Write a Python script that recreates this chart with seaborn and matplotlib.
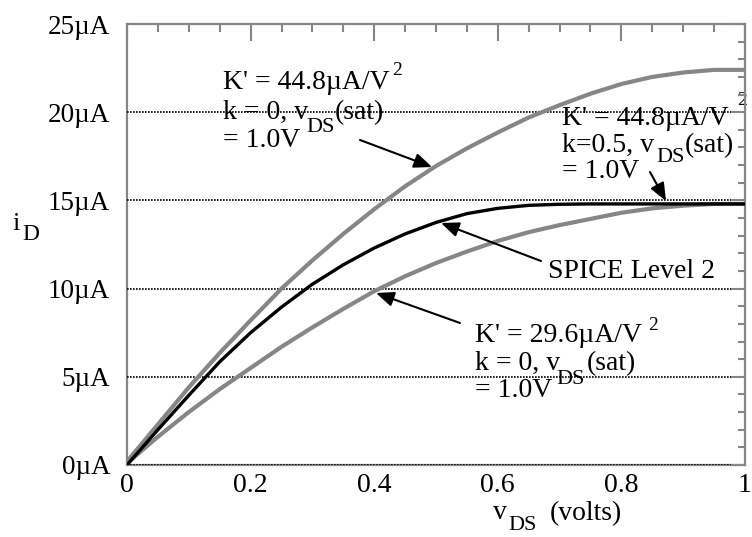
import matplotlib
matplotlib.use("Agg")
import matplotlib.pyplot as plt
from matplotlib.ticker import MultipleLocator, FixedLocator, FixedFormatter
import pandas as pd
import seaborn as sns

# ---------------- data ----------------
vds = [0.0, 0.05, 0.10, 0.15, 0.20, 0.25, 0.30, 0.35, 0.40, 0.45, 0.50,
       0.55, 0.60, 0.65, 0.70, 0.75, 0.80, 0.85, 0.90, 0.95, 1.00]
# K' = 44.8 uA/V^2, k = 0  (upper grey curve), in uA
id_k448 = [0.2, 2.3, 4.4, 6.35, 8.2, 10.0, 11.6, 13.1, 14.5, 15.8, 16.95,
           17.95, 18.85, 19.7, 20.4, 21.05, 21.6, 22.0, 22.25, 22.4, 22.4]
# SPICE Level 2 (black curve), in uA
id_spice = [0.0, 2.0, 3.95, 5.85, 7.5, 8.95, 10.25, 11.35, 12.3, 13.1, 13.75,
            14.25, 14.55, 14.72, 14.78, 14.8, 14.8, 14.8, 14.8, 14.8, 14.8]
# K' = 29.6 uA/V^2, k = 0  (lower grey curve), in uA
id_k296 = [0.1, 1.6, 3.0, 4.3, 5.5, 6.7, 7.8, 8.85, 9.85, 10.7, 11.45,
           12.1, 12.7, 13.2, 13.6, 13.95, 14.3, 14.55, 14.7, 14.8, 14.8]

x_ticks = [0, 0.2, 0.4, 0.6, 0.8, 1.0]
x_tick_labels = ["0", "0.2", "0.4", "0.6", "0.8", "1"]
y_ticks = [0, 5, 10, 15, 20, 25]
y_tick_labels = ["0µA", "5µA", "10µA", "15µA", "20µA", "25µA"]

# ---------------- style ----------------
sns.set_theme(style="white")
plt.rcParams["font.family"] = ["Liberation Serif", "DejaVu Serif"]

GREY = "#868686"
W, H = 752, 537

fig = plt.figure(figsize=(W / 100, H / 100), dpi=100)
L, R, T, B = 127, 745, 24, 465
ax = fig.add_axes([L / W, 1 - B / H, (R - L) / W, (B - T) / H])


def P(x, y):
    """pixel position (from top-left) -> figure fraction"""
    return (x / W, 1 - y / H)


df = pd.DataFrame({"vds": vds, "k448": id_k448, "spice": id_spice, "k296": id_k296})

sns.lineplot(data=df, x="vds", y="k448", ax=ax, color=GREY, lw=3.0, zorder=3)
sns.lineplot(data=df, x="vds", y="k296", ax=ax, color=GREY, lw=3.0, zorder=3)
sns.lineplot(data=df, x="vds", y="spice", ax=ax, color="black", lw=2.4, zorder=4)

ax.set_xlim(0, 1.0)
ax.set_ylim(0, 25)
ax.set_xlabel("")
ax.set_ylabel("")

ax.xaxis.set_major_locator(FixedLocator(x_ticks))
ax.xaxis.set_major_formatter(FixedFormatter(x_tick_labels))
ax.xaxis.set_minor_locator(MultipleLocator(0.05))
ax.yaxis.set_major_locator(FixedLocator(y_ticks))
ax.yaxis.set_major_formatter(FixedFormatter(y_tick_labels))
ax.yaxis.set_minor_locator(MultipleLocator(1))

for s in ax.spines.values():
    s.set_visible(True)
    s.set_color(GREY)
    s.set_linewidth(1.6)

ax.tick_params(which="both", direction="in", top=True, right=True,
               color=GREY, width=1.5, labelcolor="black")
ax.tick_params(axis="x", which="major", length=12, pad=6, labelsize=20)
ax.tick_params(axis="x", which="minor", length=6)
ax.tick_params(axis="y", which="major", length=10, pad=12, labelsize=19.5)
ax.tick_params(axis="y", which="minor", length=5)

ax.set_axisbelow(False)
ax.grid(False)
ax.yaxis.grid(True, which="major", color="black", lw=1.2, linestyle=(0, (1.0, 0.8)))
ax.xaxis.grid(False)
gl = ax.get_ygridlines()
gl[-1].set_visible(False)

# ---------------- annotations ----------------
FS = 20
SUB = 16
SUP = 14


def txt(s, x, y, size=FS):
    ax.text(*P(x, y), s, transform=fig.transFigure, fontsize=size,
            ha="left", va="baseline", color="black", zorder=2)


# upper grey label
txt("K' = 44.8µA/V", 222.7, 89.3)
txt("2", 392, 75, SUP)
txt("k = 0, v", 222.7, 119.3)
txt("DS", 306.7, 131.7, SUB)
txt("(sat)", 335, 119.3)
txt("= 1.0V", 222.7, 147.3)

# SPICE-model label (k = 0.5)
txt("K' = 44.8µA/V", 561.7, 125)
txt("2", 737, 105, SUP)
txt("k=0.5, v", 561.7, 151.7)
txt("DS", 656.7, 161.7, SUB)
txt("(sat)", 685, 151.7)
txt("= 1.0V", 561.7, 178)

# lower grey label
txt("K' = 29.6µA/V", 475, 341.7)
txt("2", 648, 330, SUP)
txt("k = 0, v", 475, 370)
txt("DS", 556.7, 384, SUB)
txt("(sat)", 586.7, 370)
txt("= 1.0V", 475, 396.7)

txt("SPICE Level 2", 548, 278)

# axis labels
txt("i", 12, 230, 19)
txt("D", 22, 240, 17)
txt("v", 493, 519, FS)
txt("DS", 508, 530, 16)
txt("(volts)", 550, 520, FS)

arrow = dict(arrowstyle="-|>,head_length=0.6,head_width=0.25",
             mutation_scale=18, color="black", lw=1.5, shrinkA=0, shrinkB=0)
for tail, tip in [((360, 140), (432, 167)),
                  ((650, 172), (666, 201)),
                  ((541, 261), (441, 223)),
                  ((460, 323), (376, 293))]:
    ax.annotate("", xy=P(*tip), xycoords="figure fraction",
                xytext=P(*tail), textcoords="figure fraction",
                arrowprops=arrow, zorder=5)

fig.savefig("out.png", dpi=100)
